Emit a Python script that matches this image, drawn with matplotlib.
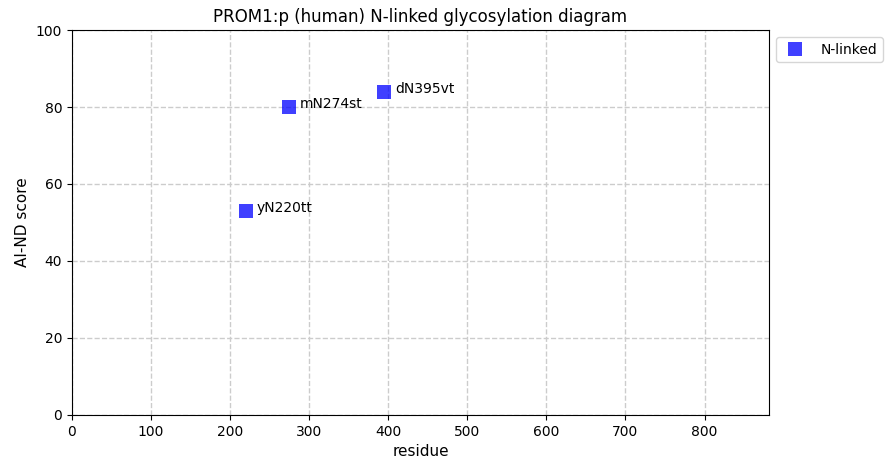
import matplotlib
matplotlib.use("Agg")
import matplotlib.pyplot as plt

residues = [220, 274, 395]
scores = [53, 80, 84]
labels = ["yN220tt", "mN274st", "dN395vt"]
protein_len = 865

fig = plt.figure(figsize=(8.93, 4.74), dpi=100)
ax = fig.add_axes([0.0806, 0.1245, 0.7805, 0.8122])
ax.plot(residues, scores, ls="none", marker="s", ms=10.5, mew=0, color="blue",
        alpha=0.75, label="N-linked", zorder=3)
for x, y, t in zip(residues, scores, labels):
    ax.annotate(t, xy=(x, y), xytext=(8, 2), textcoords="offset points",
                fontsize=10, va="center")
ax.set_xlim(0, protein_len * 1.019)
ax.set_ylim(0, 100)
ax.grid(True, ls="--", color="#cccccc", lw=1)
ax.set_axisbelow(True)
ax.set_title("PROM1:p (human) N-linked glycosylation diagram")
ax.set_xlabel("residue", fontsize=11)
ax.set_ylabel("AI-ND score", fontsize=11)
ax.legend(loc="upper left", bbox_to_anchor=(1.0, 1.0))
fig.savefig("out.png", dpi=100)
